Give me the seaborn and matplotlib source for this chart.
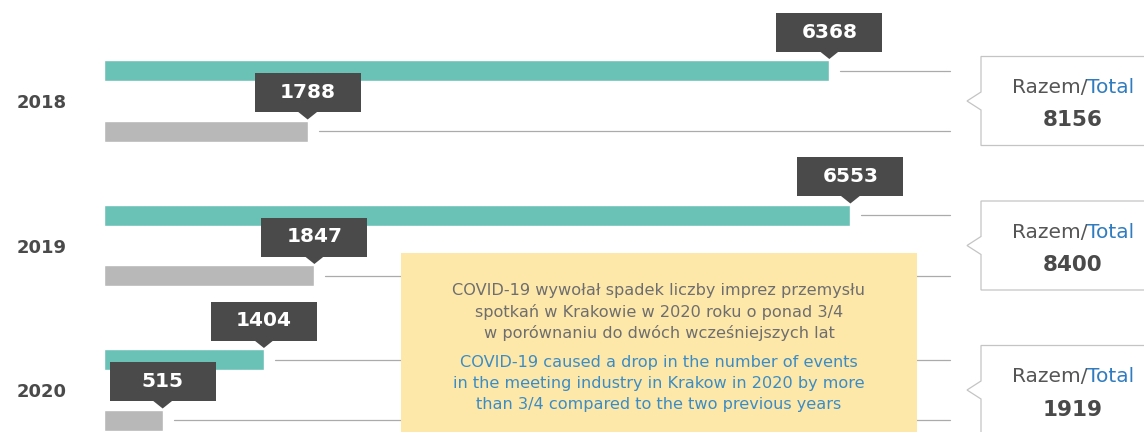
import matplotlib.pyplot as plt
import seaborn as sns
import pandas as pd
from matplotlib.patches import Rectangle, Polygon

# dane
years = ['2018', '2019', '2020']
teal_vals = [6368, 6553, 1404]
grey_vals = [1788, 1847, 515]
totals = [8156, 8400, 1919]
note_pl = ['COVID-19 wywołał spadek liczby imprez przemysłu',
           'spotkań w Krakowie w 2020 roku o ponad 3/4',
           'w porównaniu do dwóch wcześniejszych lat']
note_en = ['COVID-19 caused a drop in the number of events',
           'in the meeting industry in Krakow in 2020 by more',
           'than 3/4 compared to the two previous years']

TEAL = '#6AC2B7'
GREY = '#B8B8B8'
DARK = '#4A4A4A'
LINE = '#ABABAB'
BLUE = '#2F7DC0'

sns.set_style('white')
plt.rcParams['font.family'] = ['DejaVu Sans']

W, H = 1144, 432
fig = plt.figure(figsize=(W / 100, H / 100), dpi=100)
ax = fig.add_axes([0, 0, 1, 1])

# uklad w pikselach
x0, k = 104, 0.1139
top, step, gap, bar_h = 70.5, 144.5, 60.5, 21

rows = []
for i, yr in enumerate(years):
    yc = top + i * step
    rows.append({'year': yr, 'series': 'teal', 'value': teal_vals[i], 'ypos': yc})
    rows.append({'year': yr, 'series': 'grey', 'value': grey_vals[i], 'ypos': yc + gap})
df = pd.DataFrame(rows)

sns.barplot(data=df, x='value', y='ypos', hue='series', orient='y',
            native_scale=True, dodge=False, width=bar_h / gap,
            palette={'teal': TEAL, 'grey': GREY}, saturation=1,
            errorbar=None, legend=False, ax=ax)
ax.set_xlim(-x0 / k, (W - x0) / k)
ax.set_ylim(H, 0)
ax.axis('off')

ov = fig.add_axes([0, 0, 1, 1])
ov.set_xlim(0, W)
ov.set_ylim(H, 0)
ov.axis('off')

renderer = fig.canvas.get_renderer()

for _, r in df.iterrows():
    end = ax.transData.transform((r['value'], r['ypos']))[0]
    btop = r['ypos'] - bar_h / 2
    ov.plot([end + 11, 950], [r['ypos'], r['ypos']], color=LINE, lw=0.9, zorder=1)
    bb = btop - 8.5
    ov.add_patch(Rectangle((end - 53, bb - 39), 106, 39, fc=DARK, ec='none', zorder=4))
    ov.add_patch(Polygon([(end - 10, bb - 0.5), (end + 10, bb - 0.5), (end, btop - 1)],
                         fc=DARK, ec='none', zorder=4))
    ov.text(end, bb - 19.5, f"{r['value']}", color='white', fontsize=14.5,
            fontweight='bold', ha='center', va='center', zorder=5)

for i, yr in enumerate(years):
    yc = top + i * step
    ov.text(17, yc + gap / 2 + 2.5, yr, fontsize=13, fontweight='bold',
            color=DARK, ha='left', va='center')

    # ramka z suma
    bt = yc - 14
    mid = bt + 44.5
    pts = [(1160, bt), (981, bt), (981, mid - 9), (967, mid), (981, mid + 9),
           (981, bt + 89), (1160, bt + 89)]
    ov.add_patch(Polygon(pts, closed=True, fc='white', ec='#C4C4C4', lw=0.9, zorder=3))
    t1 = ov.text(0, bt + 31, 'Razem/', fontsize=14.5, color='#555555',
                 ha='left', va='center', zorder=5)
    t2 = ov.text(0, bt + 31, 'Total', fontsize=14.5, color=BLUE,
                 ha='left', va='center', zorder=5)
    w1 = t1.get_window_extent(renderer).width
    w2 = t2.get_window_extent(renderer).width
    start = 1073 - (w1 + w2) / 2
    t1.set_x(start)
    t2.set_x(start + w1)
    ov.text(1073, bt + 64, f'{totals[i]}', fontsize=15.5, fontweight='bold',
            color=DARK, ha='center', va='center', zorder=5)

# notatka
ov.add_patch(Rectangle((401, 253), 516, 200, fc='#FDE8AA', ec='none', zorder=3))
for j, line in enumerate(note_pl):
    ov.text(659, 290 + j * 21.5, line, fontsize=11.6, color='#6E6E6E',
            ha='center', va='center', zorder=5)
for j, line in enumerate(note_en):
    ov.text(659, 362 + j * 21.5, line, fontsize=11.6, color='#3B8CC4',
            ha='center', va='center', zorder=5)

fig.savefig('out.png', dpi=100)
